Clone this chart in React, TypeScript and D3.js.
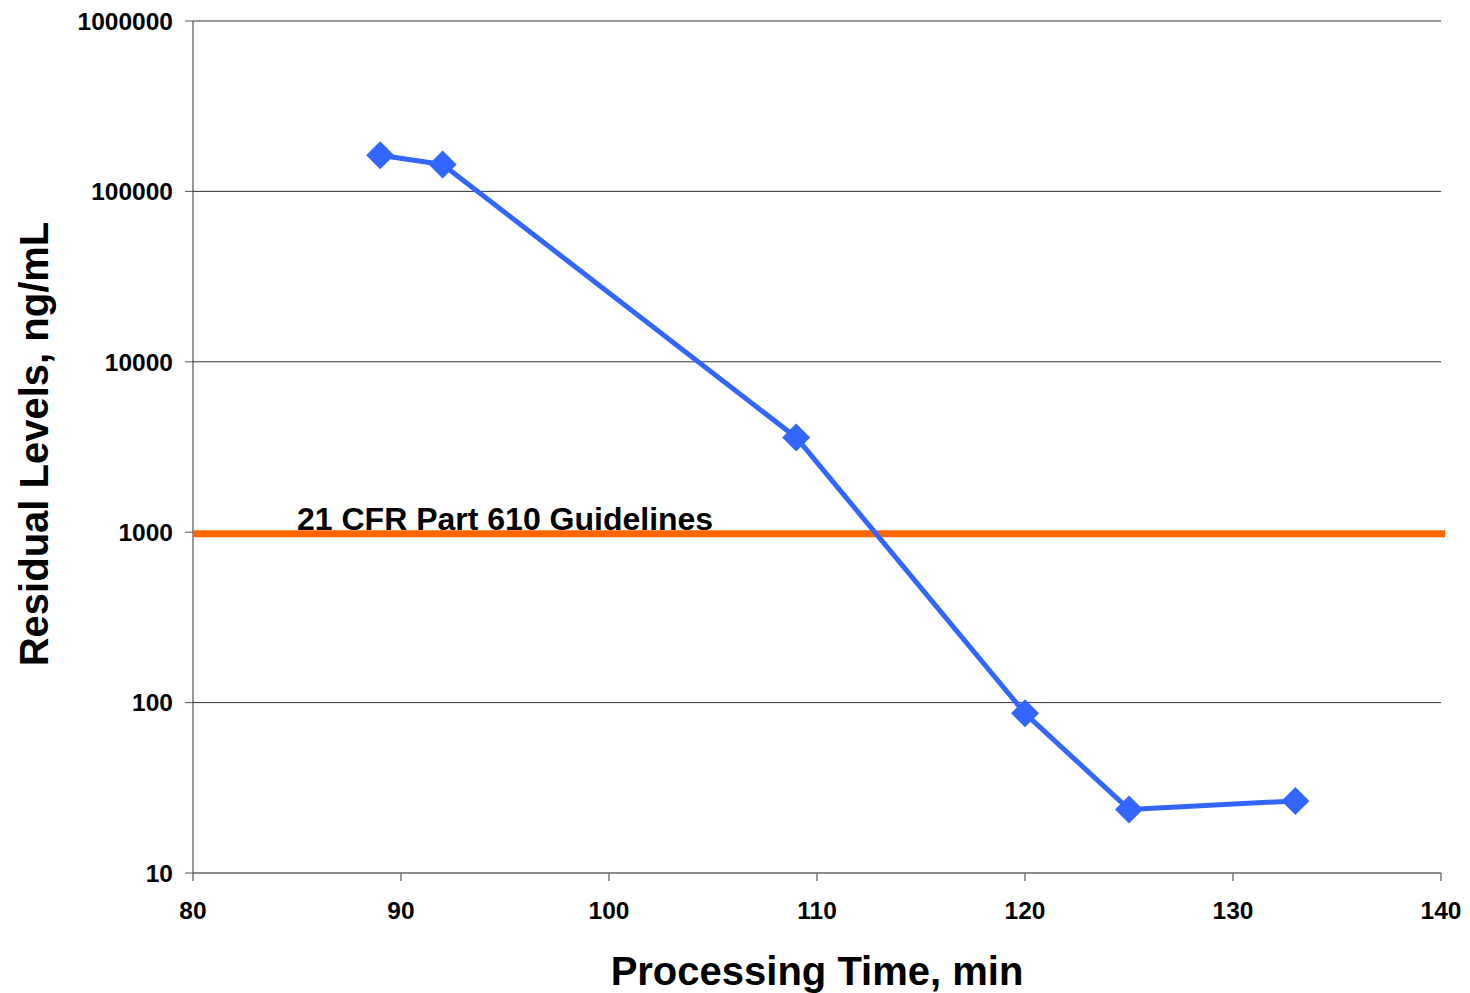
import React from "react";
import * as d3 from "d3";

const times = [89, 92, 109, 120, 125, 133];
const residuals = [163000, 144000, 3600, 86.5, 23.6, 26.5];
const guidelineValue = 1000;
const guidelineLabel = "21 CFR Part 610 Guidelines";
const xTicks = [80, 90, 100, 110, 120, 130, 140];
const yTicks = [10, 100, 1000, 10000, 100000, 1000000];
const xTitle = "Processing Time, min";
const yTitle = "Residual Levels, ng/mL";

const W = 1470;
const H = 993;
const left = 193;
const right = 1441;
const top = 21;
const bottom = 873;

export default function App() {
  const x = d3.scaleLinear().domain([80, 140]).range([left, right]);
  const y = d3.scaleLog().domain([10, 1000000]).range([bottom, top]);
  const line = d3
    .line<number>()
    .x((_, i) => x(times[i]))
    .y((d) => y(d));
  const font = "'Liberation Sans', Arial, sans-serif";
  const blue = "#3366FF";
  const m = 14;
  return (
    <svg
      width={W}
      height={H}
      style={{ position: "absolute", left: 0, top: 0, background: "#fff" }}
      fontFamily={font}
    >
      {yTicks.map((t) => (
        <g key={t}>
          {t > 10 && (
            <line x1={left} x2={right} y1={y(t)} y2={y(t)} stroke="#333" strokeWidth={1} />
          )}
          <line x1={left - 8} x2={left} y1={y(t)} y2={y(t)} stroke="#555" strokeWidth={1} />
          <text
            x={173}
            y={y(t)}
            dy="0.36em"
            textAnchor="end"
            fontSize={24.5}
            fontWeight="bold"
            fill="#000"
          >
            {t}
          </text>
        </g>
      ))}
      {xTicks.map((t) => (
        <g key={t}>
          <line x1={x(t)} x2={x(t)} y1={bottom} y2={bottom + 8} stroke="#333" strokeWidth={1} />
          <text
            x={x(t)}
            y={919}
            textAnchor="middle"
            fontSize={24.5}
            fontWeight="bold"
            fill="#000"
          >
            {t}
          </text>
        </g>
      ))}
      <line x1={left} x2={left} y1={top} y2={bottom} stroke="#333" strokeWidth={1} />
      <line x1={left} x2={right} y1={bottom} y2={bottom} stroke="#666" strokeWidth={1.5} />
      <line
        x1={left}
        x2={1445}
        y1={y(guidelineValue) + 1.5}
        y2={y(guidelineValue) + 1.5}
        stroke="#FF6600"
        strokeWidth={7}
      />
      <text x={297} y={530} fontSize={32} fontWeight="bold" fill="#000">
        {guidelineLabel}
      </text>
      <path d={line(residuals) || ""} fill="none" stroke={blue} strokeWidth={5} strokeLinejoin="round" />
      {residuals.map((v, i) => (
        <path
          key={i}
          d={`M${x(times[i])},${y(v) - m}L${x(times[i]) + m},${y(v)}L${x(times[i])},${y(v) + m}L${x(times[i]) - m},${y(v)}Z`}
          fill={blue}
        />
      ))}
      <text x={817} y={985} textAnchor="middle" fontSize={40} fontWeight="bold" fill="#000">
        {xTitle}
      </text>
      <text
        transform={`translate(48,444) rotate(-90)`}
        textAnchor="middle"
        fontSize={40}
        fontWeight="bold"
        fill="#000"
      >
        {yTitle}
      </text>
    </svg>
  );
}
